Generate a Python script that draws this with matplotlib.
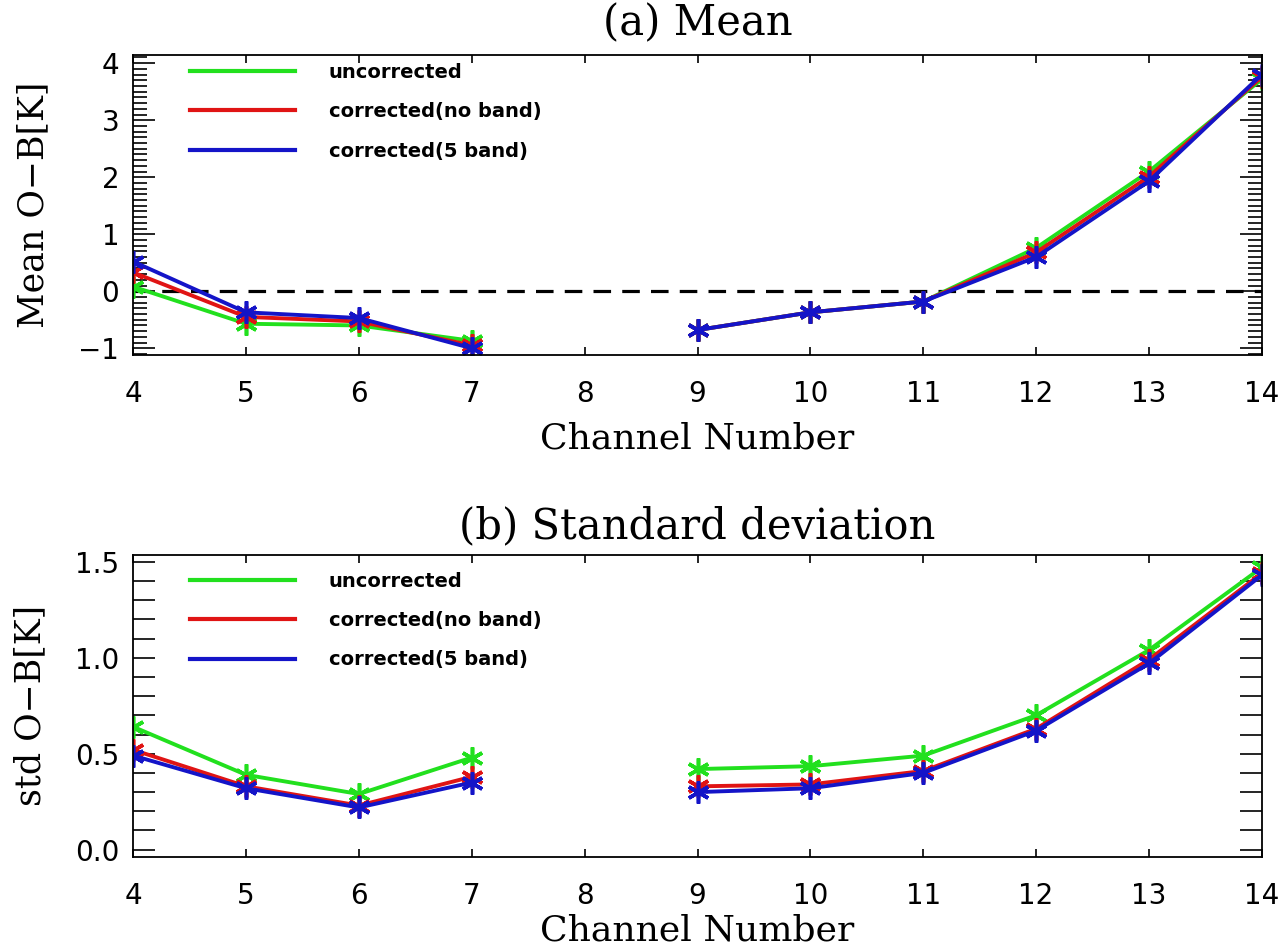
import matplotlib
matplotlib.use('Agg')
import matplotlib.pyplot as plt
from matplotlib.ticker import MultipleLocator, FormatStrFormatter
import numpy as np

nan = np.nan

# channel 8 has no data -> gap
channels = [4, 5, 6, 7, 8, 9, 10, 11, 12, 13, 14]
labels = ['uncorrected', 'corrected(no band)', 'corrected(5 band)']
colors = ['#22e01e', '#e01414', '#1414c8']

mean_uncorr = [0.08, -0.57, -0.60, -0.87, nan, -0.68, -0.37, -0.18, 0.76, 2.10, 3.72]
mean_noband = [0.33, -0.45, -0.53, -0.95, nan, -0.68, -0.37, -0.18, 0.68, 2.01, 3.76]
mean_5band = [0.52, -0.37, -0.47, -1.00, nan, -0.68, -0.37, -0.18, 0.60, 1.93, 3.80]

std_uncorr = [0.64, 0.39, 0.29, 0.48, nan, 0.42, 0.435, 0.49, 0.70, 1.04, 1.47]
std_noband = [0.52, 0.33, 0.23, 0.38, nan, 0.33, 0.34, 0.41, 0.63, 0.99, 1.44]
std_5band = [0.49, 0.32, 0.22, 0.35, nan, 0.30, 0.32, 0.40, 0.62, 0.97, 1.43]

serif = 'DejaVu Serif'
sans = 'DejaVu Sans'
asterisk = (6, 2, 0)


def draw_panel(ax, series, title, ylabel, title_pad, xlabel_pad):
    for vals, c in zip(series, colors):
        ax.plot(channels, vals, color=c, lw=2.8, marker=asterisk,
                ms=16, mew=2.6, mec=c)
    ax.set_xlim(4, 14)
    ax.xaxis.set_major_locator(MultipleLocator(1))
    ax.tick_params(axis='both', which='both', direction='in',
                   top=True, right=True, width=1.2)
    ax.tick_params(axis='x', length=6, pad=18)
    for s in ax.spines.values():
        s.set_linewidth(1.3)
    ax.set_xlabel('Channel Number', family=serif, fontsize=26, labelpad=xlabel_pad)
    ax.set_ylabel(ylabel, family=serif, fontsize=25, labelpad=20)
    ax.set_title(title, family=serif, fontsize=30, pad=title_pad)
    handles = [plt.Line2D([], [], color=c, lw=3) for c in colors]
    ax.legend(handles, labels, loc='upper left', bbox_to_anchor=(0.05, 0.975),
              frameon=False, borderpad=0, borderaxespad=0,
              handlelength=5.4, handletextpad=1.75, labelspacing=1.05,
              prop={'family': sans, 'weight': 'bold', 'size': 14})


fig = plt.figure(figsize=(12.81, 9.52), dpi=100)

ax1 = fig.add_axes([0.104, 0.627, 0.881, 0.315])
ax1.axhline(0, color='black', lw=2.3, ls=(0, (5.5, 3.5)), zorder=1)
draw_panel(ax1, [mean_uncorr, mean_noband, mean_5band], '(a) Mean',
           'Mean O\u2212B[K]', 14, 10)
ax1.set_ylim(-1.12, 4.14)
ax1.yaxis.set_major_locator(MultipleLocator(1))
ax1.yaxis.set_minor_locator(MultipleLocator(0.1))
ax1.tick_params(axis='y', which='major', length=16, pad=10)
ax1.tick_params(axis='y', which='minor', length=10)

ax2 = fig.add_axes([0.104, 0.1, 0.881, 0.317])
draw_panel(ax2, [std_uncorr, std_noband, std_5band], '(b) Standard deviation',
           'std O\u2212B[K]', 12, 3)
ax2.set_ylim(-0.037, 1.535)
ax2.yaxis.set_major_locator(MultipleLocator(0.5))
ax2.yaxis.set_minor_locator(MultipleLocator(0.1))
ax2.yaxis.set_major_formatter(FormatStrFormatter('%.1f'))
ax2.tick_params(axis='y', which='both', length=16, pad=10)
ax2.legend_.set_bbox_to_anchor((0.05, 0.945), transform=ax2.transAxes)

for ax in (ax1, ax2):
    for lab in ax.get_xticklabels() + ax.get_yticklabels():
        lab.set_family(sans)
        lab.set_fontsize(20)

fig.savefig('out.png', dpi=100)
